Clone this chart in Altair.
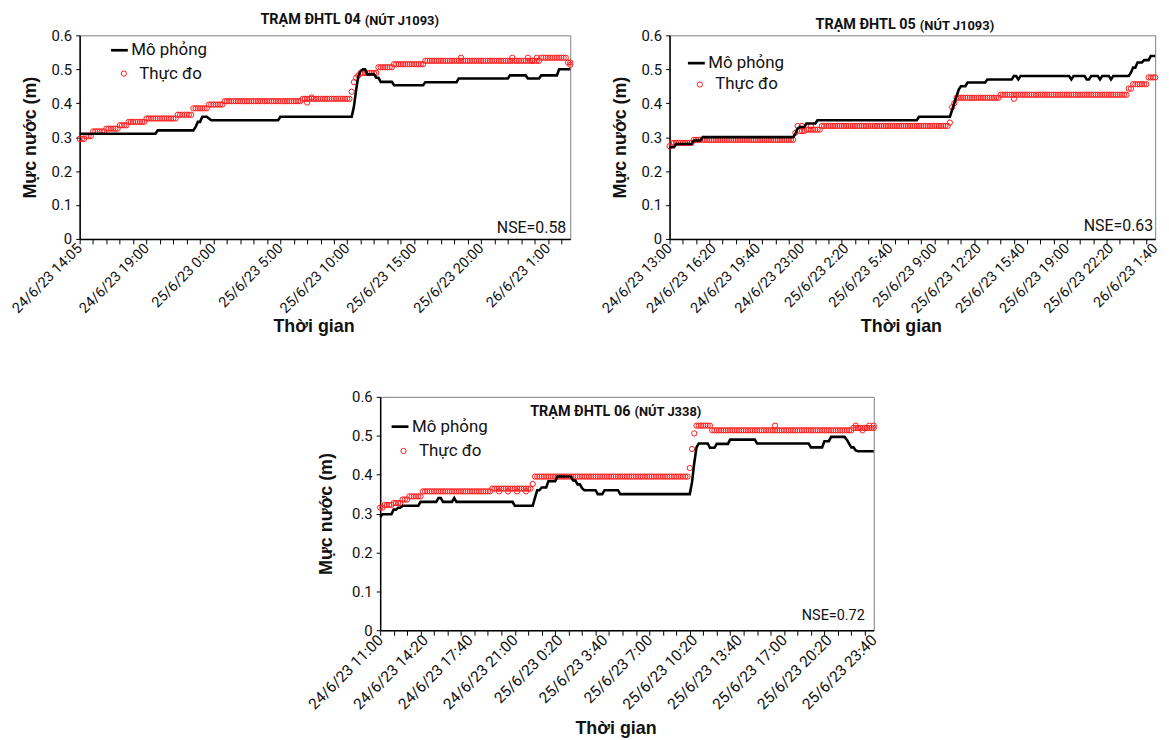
import altair as alt
import pandas as pd

# ---------------- data (minutes from first axis label, water level in m) -------------
# Panel 1: TRẠM ĐHTL 04
p1_labels = ["24/6/23 14:05", "24/6/23 19:00", "25/6/23 0:00", "25/6/23 5:00",
             "25/6/23 10:00", "25/6/23 15:00", "25/6/23 20:00", "26/6/23 1:00"]
p1_label_pos = [0, 300, 600, 900, 1200, 1500, 1800, 2100]
p1_sim_t = [0, 350, 520, 530, 550, 580, 590, 900, 1230, 1240, 1250, 1260, 1270, 1290,
            1330, 1350, 1410, 1550, 1700, 1930, 2010, 2070, 2150]
p1_sim_v = [0.31, 0.32, 0.33, 0.345, 0.36, 0.355, 0.35, 0.36, 0.39, 0.44, 0.48, 0.495, 0.50, 0.485,
            0.475, 0.463, 0.453, 0.462, 0.473, 0.482, 0.473, 0.482, 0.50]
p1_obs_t = [0, 30, 60, 120, 180, 220, 300, 440, 510, 580, 650, 1000, 1220, 1230, 1240,
            1250, 1260, 1340, 1410, 1550, 2070, 2190]
p1_obs_v = [0.295, 0.303, 0.317, 0.325, 0.335, 0.345, 0.355, 0.366, 0.385, 0.396, 0.406, 0.413,
            0.434, 0.462, 0.475, 0.482, 0.489, 0.506, 0.515, 0.525, 0.534, 0.52]
p1_ext_t = [1020, 1040, 1710, 1940, 2010, 2030, 2050, 2200]
p1_ext_v = [0.402, 0.417, 0.534, 0.534, 0.534, 0.525, 0.534, 0.513]

# Panel 2: TRẠM ĐHTL 05
p2_labels = ["24/6/23 13:00", "24/6/23 16:20", "24/6/23 19:40", "24/6/23 23:00",
             "25/6/23 2:20", "25/6/23 5:40", "25/6/23 9:00", "25/6/23 12:20",
             "25/6/23 15:40", "25/6/23 19:00", "25/6/23 22:20", "26/6/23 1:40"]
p2_label_pos = [0, 200, 400, 600, 800, 1000, 1200, 1400, 1600, 1800, 2000, 2200]
p2_sim_t = [0, 30, 110, 150, 570, 580, 590, 620, 670, 1130, 1280, 1290, 1300, 1310, 1320,
            1350, 1440, 1560, 1580, 1590, 1820, 1830, 1890, 1910, 1950, 1960, 2000, 2010,
            2090, 2100, 2120, 2150, 2180]
p2_sim_v = [0.27, 0.28, 0.29, 0.30, 0.31, 0.325, 0.33, 0.34, 0.35, 0.36, 0.38, 0.40, 0.42, 0.44, 0.45,
            0.461, 0.47, 0.48, 0.47, 0.48, 0.47, 0.48, 0.47, 0.48, 0.47, 0.48, 0.47, 0.48,
            0.49, 0.505, 0.52, 0.527, 0.539]
p2_obs_t = [0, 10, 110, 570, 580, 590, 620, 690, 1270, 1280, 1290, 1300, 1500, 2080, 2100, 2170]
p2_obs_v = [0.273, 0.283, 0.292, 0.313, 0.333, 0.318, 0.322, 0.333, 0.343, 0.388, 0.40, 0.416,
            0.425, 0.443, 0.456, 0.476]
p2_ext_t = [1560, 600, 640]
p2_ext_v = [0.413, 0.333, 0.333]

# Panel 3: TRẠM ĐHTL 06
p3_labels = ["24/6/23 11:00", "24/6/23 14:20", "24/6/23 17:40", "24/6/23 21:00",
             "25/6/23 0:20", "25/6/23 3:40", "25/6/23 7:00", "25/6/23 10:20",
             "25/6/23 13:40", "25/6/23 17:00", "25/6/23 20:20", "25/6/23 23:40"]
p3_label_pos = [0, 200, 400, 600, 800, 1000, 1200, 1400, 1600, 1800, 2000, 2200]
p3_sim_t = [0, 10, 60, 80, 100, 180, 260, 280, 330, 340, 600, 690, 700, 720, 750, 790, 850,
            860, 880, 900, 910, 970, 1000, 1070, 1390, 1400, 1410, 1420, 1470, 1500, 1560,
            1680, 1920, 1980, 2010, 2080, 2090, 2100, 2120, 2130]
p3_sim_v = [0.291, 0.298, 0.31, 0.315, 0.32, 0.33, 0.34, 0.33, 0.34, 0.33, 0.32, 0.34, 0.36, 0.367,
            0.383, 0.395, 0.395, 0.385, 0.375, 0.365, 0.36, 0.35, 0.36, 0.35, 0.38, 0.43, 0.47,
            0.48, 0.469, 0.479, 0.49, 0.48, 0.47, 0.486, 0.497, 0.49, 0.48, 0.47, 0.462, 0.46]
p3_obs_t = [0, 20, 60, 100, 130, 190, 500, 680, 690, 1380, 1390, 1400, 1410, 1480, 2110]
p3_obs_v = [0.315, 0.322, 0.327, 0.336, 0.344, 0.357, 0.364, 0.376, 0.395, 0.417, 0.466, 0.506,
            0.526, 0.514, 0.52]
p3_ext_t = [530, 570, 610, 650, 1760, 2120, 2150, 2180, 2200]
p3_ext_v = [0.357, 0.357, 0.357, 0.357, 0.526, 0.526, 0.514, 0.526, 0.526]

SPAN = 2200
STEP = 10

TXT = "Roboto"
AX_TITLE = "Liberation Sans"


def hold(ts, vs):
    """Readings held at each value from its change time until the next change."""
    times = list(range(0, SPAN + 1, STEP))
    out, j = [], 0
    for t in times:
        while j + 1 < len(ts) and ts[j + 1] <= t:
            j += 1
        out.append(vs[j])
    return times, out


def panel(sim_t, sim_v, obs_t, obs_v, ext_t, ext_v, labels, label_pos, nse,
          title_a, title_b, w, h, title_split, title_y, lx_line, lx_circ,
          ly1, ly2, nse_dx, nse_dy, nse_size, xlab_size, ytitle_pad, xtitle_dy):
    tt, sv = hold(sim_t, sim_v)
    _, ov = hold(obs_t, obs_v)
    sim_df = pd.DataFrame({"t": tt, "v": sv, "s": ["Mô phỏng"] * len(tt)})
    obs_df = pd.DataFrame({"t": tt + ext_t, "v": ov + ext_v,
                           "o": ["Thực đo"] * (len(tt) + len(ext_t))})

    tick_vals = sorted(set(range(0, SPAN + 1, 60)) | set(label_pos))
    pos_arr = "[" + ",".join(str(p) for p in label_pos) + "]"
    lab_arr = "[" + ",".join("'" + l + "'" for l in labels) + "]"
    label_expr = (f"indexof({pos_arr}, datum.value) >= 0 ? "
                  f"{lab_arr}[indexof({pos_arr}, datum.value)] : ''")

    x = alt.X("t:Q",
              scale=alt.Scale(domain=[0, SPAN], nice=False, zero=False),
              axis=alt.Axis(values=tick_vals, tickCount=500, labelExpr=label_expr,
                            labelAngle=-45, labelAlign="right", labelBaseline="middle",
                            labelFlush=False, labelOverlap=False, labelPadding=2,
                            labelFont=TXT, labelFontSize=xlab_size, labelColor="#111",
                            tickSize=5, tickColor="black", tickWidth=1,
                            tickOpacity={"condition": {"test": "datum.value % 60 != 0",
                                                       "value": 0}, "value": 1},
                            domainColor="black", domainWidth=1.5, grid=False, title=None))
    y = alt.Y("v:Q",
              scale=alt.Scale(domain=[0, 0.6], nice=False, zero=True),
              axis=alt.Axis(values=[0, 0.1, 0.2, 0.3, 0.4, 0.5, 0.6], tickCount=50,
                            format=".1~f", labelOverlap=False,
                            labelFont=TXT, labelFontSize=15, labelColor="#111",
                            labelPadding=4, tickSize=4, tickColor="black",
                            domainColor="black", domainWidth=1.5, grid=False,
                            title="Mực nước (m)", titleFont=AX_TITLE, titleFontSize=18,
                            titleFontWeight="bold", titleColor="#111",
                            titlePadding=ytitle_pad))

    pts = alt.Chart(obs_df).mark_point(shape="circle", filled=False, size=28,
                                       strokeWidth=1, opacity=1).encode(
        x=x, y=y,
        stroke=alt.Stroke("o:N", scale=alt.Scale(domain=["Thực đo"], range=["#ff1a1a"]),
                          legend=alt.Legend(title=None, orient="none", legendX=lx_circ,
                                            legendY=ly2, symbolType="circle", symbolSize=28,
                                            symbolStrokeWidth=1, labelFont=TXT,
                                            labelFontSize=17, labelColor="#111",
                                            labelOffset=7, padding=0)))
    line = alt.Chart(sim_df).mark_line(color="black", strokeWidth=2.6).encode(
        x="t:Q", y="v:Q",
        color=alt.Color("s:N", scale=alt.Scale(domain=["Mô phỏng"], range=["black"]),
                        legend=alt.Legend(title=None, orient="none", legendX=lx_line,
                                          legendY=ly1, symbolType="stroke", symbolSize=289,
                                          symbolStrokeWidth=2.7, labelFont=TXT,
                                          labelFontSize=17, labelColor="#111",
                                          labelOffset=2, padding=0)))
    tdf = pd.DataFrame({"a": [title_a], "b": [title_b], "n": [nse], "x": ["Thời gian"]})
    ta = alt.Chart(tdf).mark_text(align="right", baseline="middle", font=TXT,
                                  fontWeight="bold", fontSize=14.5, color="#111").encode(
        x=alt.value(title_split - 2), y=alt.value(title_y), text="a:N")
    tb = alt.Chart(tdf).mark_text(align="left", baseline="middle", font=TXT,
                                  fontWeight="bold", fontSize=13, color="#111").encode(
        x=alt.value(title_split + 2), y=alt.value(title_y + 0.5), text="b:N")
    tn = alt.Chart(tdf).mark_text(align="right", baseline="alphabetic", font=TXT,
                                  fontSize=nse_size, color="#111").encode(
        x=alt.value(w - nse_dx), y=alt.value(h - nse_dy), text="n:N")
    tx = alt.Chart(tdf).mark_text(align="center", baseline="middle", font=AX_TITLE,
                                  fontWeight="bold", fontSize=18, color="#111").encode(
        x=alt.value(w / 2 - 11), y=alt.value(h + xtitle_dy), text="x:N")
    return alt.layer(pts, line, ta, tb, tn, tx).resolve_scale(
        color="independent", stroke="independent").properties(width=w, height=h)


p1 = panel(p1_sim_t, p1_sim_v, p1_obs_t, p1_obs_v, p1_ext_t, p1_ext_v, p1_labels, p1_label_pos,
           "NSE=0.58", "TRẠM  ĐHTL 04", "(NÚT J1093)", 494, 205, 285, -15,
           30, 36, 5, 30, 4, 6, 16, 14.5, 12, 89)
p2 = panel(p2_sim_t, p2_sim_v, p2_obs_t, p2_obs_v, p2_ext_t, p2_ext_v, p2_labels, p2_label_pos,
           "NSE=0.63", "TRẠM ĐHTL 05", "(NÚT J1093)", 489, 205, 250, -10,
           17, 22, 18, 41, 2, 8, 16, 14.5, 12, 89)
p3 = panel(p3_sim_t, p3_sim_v, p3_obs_t, p3_obs_v, p3_ext_t, p3_ext_v, p3_labels, p3_label_pos,
           "NSE=0.72", "TRẠM  ĐHTL 06", "(NÚT J338)", 497, 235, 254, 15,
           10, 15, 20, 46, 9, 10, 14.5, 15.5, 16, 99)

# empty, borderless view placed left of the bottom panel to nudge it right when centred
blank = alt.Chart(pd.DataFrame({"e": [""]})).mark_text(opacity=0).encode(
    x=alt.value(0), y=alt.value(0), text="e:N").properties(
    width=16, height=20, view=alt.ViewBackground(strokeOpacity=0, fillOpacity=0))

top = alt.hconcat(p1, p2, spacing=22).resolve_scale(
    color="independent", stroke="independent").resolve_legend(
    color="independent", stroke="independent")
bottom = alt.hconcat(blank, p3, spacing=-72).resolve_scale(
    color="independent", stroke="independent").resolve_legend(
    color="independent", stroke="independent")
chart = alt.vconcat(top, bottom, spacing=52, center=True).resolve_scale(
    color="independent", stroke="independent").resolve_legend(
    color="independent", stroke="independent").configure_view(
    stroke="#808080", strokeWidth=1).properties(
    padding={"left": 0, "top": 1, "right": 0, "bottom": 0}, background="white")

chart.save("out.html", embed_options={"renderer": "svg", "actions": False})
